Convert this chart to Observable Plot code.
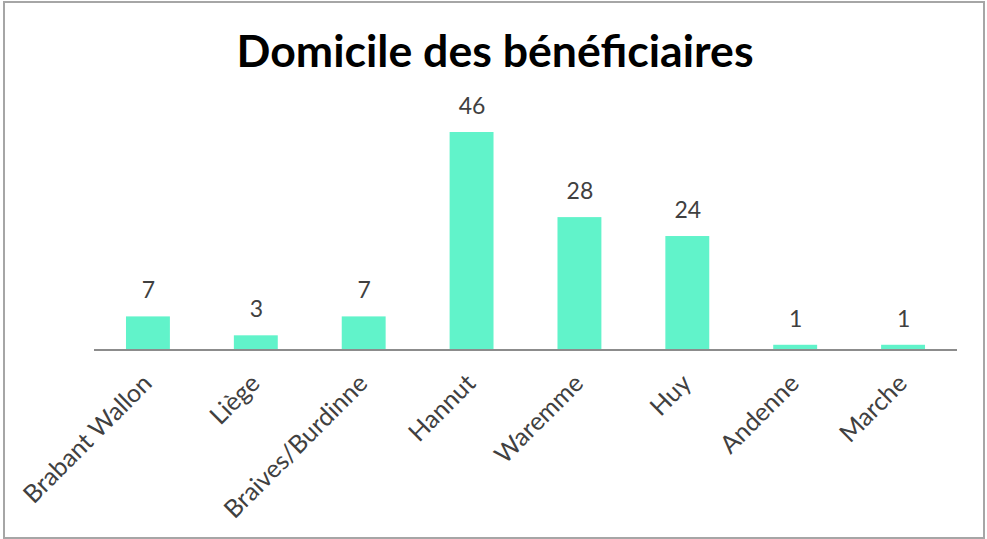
<!DOCTYPE html>
<html>
<head>
<meta charset="utf-8">
<script src="https://cdn.jsdelivr.net/npm/d3@7"></script>
<script src="https://cdn.jsdelivr.net/npm/@observablehq/plot@0.6"></script>
<style>
  html, body { margin: 0; padding: 0; background: #ffffff; }
  #wrap { position: relative; width: 987px; height: 539px; overflow: hidden; }
  #border { position: absolute; left: 3px; top: 1px; width: 978px; height: 534px; border: 2px solid #a6a6a6; pointer-events: none; }
  #chart { position: absolute; left: 0; top: 0; }
</style>
</head>
<body>
<div id="wrap"><div id="chart"></div><div id="border"></div></div>
<script>
const categories = ["Brabant Wallon", "Liège", "Braives/Burdinne", "Hannut", "Waremme", "Huy", "Andenne", "Marche"];
const values = [7, 3, 7, 46, 28, 24, 1, 1];
const titleText = "Domicile des bénéficiaires";

const data = categories.map((c, i) => ({cat: c, val: values[i]}));

const chart = Plot.plot({
  width: 987,
  height: 539,
  marginLeft: 94,
  marginRight: 30,
  marginTop: 132,
  marginBottom: 189.5,
  style: {fontFamily: "Lato, 'Open Sans', sans-serif", background: "transparent", overflow: "visible"},
  x: {domain: categories, paddingInner: 0.593, paddingOuter: 0.2965, round: false, axis: null},
  y: {domain: [0, 46], axis: null},
  marks: [
    Plot.barY(data, {x: "cat", y: "val", fill: "#61F3CA"}),
    Plot.ruleY([0], {stroke: "#8c8c8c", strokeWidth: 2}),
    Plot.text(data, {x: "cat", y: "val", text: d => String(d.val), dy: -18.5, lineAnchor: "bottom", fontSize: 23, fill: "#404040"}),
    Plot.text(data, {x: "cat", y: 0, text: "cat", rotate: -45, textAnchor: "end", lineAnchor: "bottom", dx: 5, dy: 35, fontSize: 25, fill: "#404040"}),
    Plot.text([titleText], {frameAnchor: "top", text: d => d, dx: -31, dy: -65.3, lineAnchor: "bottom", fontSize: 44, fontWeight: "bold", fill: "#000000"})
  ]
});

document.getElementById("chart").appendChild(chart);

// fit the title's width to the reference
chart.querySelectorAll("text").forEach(t => {
  if (t.textContent === titleText) {
    t.setAttribute("textLength", "517");
    t.setAttribute("lengthAdjust", "spacingAndGlyphs");
  }
});
</script>
</body>
</html>
